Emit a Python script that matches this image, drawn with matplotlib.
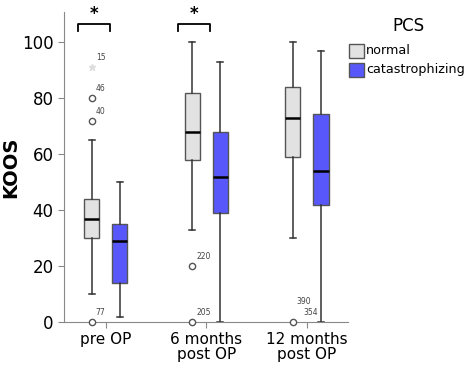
"""KOOS by PCS group over time (boxplots)."""

import matplotlib.pyplot as plt

groups = ['pre OP', '6 months\npost OP', '12 months\npost OP']
series = ['normal', 'catastrophizing']
colors = ['#e2e2e2', '#5858fa']

# box stats per series, one value per group
whislo = {'normal': [10, 33, 30], 'catastrophizing': [2, 0, 0]}
q1 = {'normal': [30, 58, 59], 'catastrophizing': [14, 39, 42]}
med = {'normal': [37, 68, 73], 'catastrophizing': [29, 52, 54]}
q3 = {'normal': [44, 82, 84], 'catastrophizing': [35, 68, 74.5]}
whishi = {'normal': [65, 100, 100], 'catastrophizing': [50, 93, 97]}

# outliers: (group index, value, case label)
outliers_normal = [(0, 80, '46'), (0, 72, '40'), (0, 0, '77'),
                   (1, 20, '220'), (1, 0, '205'), (2, 0, '390')]
extremes_normal = [(0, 91, '15')]
labels_blue = [(2, 0, '354')]

sig_groups = [0, 1]

offset = 0.14
width = 0.15


def main():
    fig = plt.figure(figsize=(4.66, 3.69), dpi=100)
    ax = fig.add_axes([0.137, 0.127, 0.61, 0.84])

    for si, s in enumerate(series):
        sign = -1 if si == 0 else 1
        stats = []
        for gi in range(len(groups)):
            stats.append(dict(whislo=whislo[s][gi], q1=q1[s][gi], med=med[s][gi],
                              q3=q3[s][gi], whishi=whishi[s][gi], fliers=[]))
        pos = [gi + sign * offset for gi in range(len(groups))]
        ax.bxp(stats, positions=pos, widths=width, patch_artist=True,
               showfliers=False,
               boxprops=dict(facecolor=colors[si], edgecolor='#555555', linewidth=1),
               medianprops=dict(color='black', linewidth=1.8),
               whiskerprops=dict(color='#333333', linewidth=1.1),
               capprops=dict(color='#333333', linewidth=1.1),
               capwidths=0.06)

    for gi, v, lab in outliers_normal:
        x = gi - offset
        ax.plot(x, v, 'o', mfc='white', mec='#555555', ms=4.5, mew=1, clip_on=False, zorder=5)
        dy = 6.5 if gi == 2 else 2.5
        ax.text(x + 0.04, v + dy, lab, fontsize=5.5, color='#444444')
    for gi, v, lab in extremes_normal:
        x = gi - offset
        ax.plot(x, v, '*', color='#dddddd', ms=5, zorder=5)
        ax.text(x + 0.04, v + 2.5, lab, fontsize=5.5, color='#444444')
    for gi, v, lab in labels_blue:
        x = gi + offset
        ax.text(x - 0.17, v + 2.5, lab, fontsize=5.5, color='#444444')

    # significance brackets
    for gi in sig_groups:
        x0, x1 = gi - 0.28, gi + 0.04
        ax.plot([x0, x0, x1, x1], [104, 106.4, 106.4, 104], color='black', lw=1.3, clip_on=False)
        ax.text((x0 + x1) / 2, 110, '*', ha='center', va='center', fontsize=12, fontweight='bold')

    ax.set_xlim(-0.418, 2.41)
    ax.set_ylim(0, 110.7)
    ax.set_yticks([0, 20, 40, 60, 80, 100])
    ax.set_xticks(range(len(groups)))
    ax.set_xticklabels(groups, fontsize=11, linespacing=1.0)
    ax.tick_params(axis='y', labelsize=12, length=4, color='#888888')
    ax.tick_params(axis='x', length=4, color='#888888', pad=3)
    ax.set_ylabel('KOOS', fontsize=14, fontweight='bold')
    ax.yaxis.set_label_coords(-0.155, 0.5)
    for side in ['top', 'right']:
        ax.spines[side].set_visible(False)
    for side in ['left', 'bottom']:
        ax.spines[side].set_color('#888888')

    # legend
    fig.text(0.876, 0.93, 'PCS', fontsize=12, ha='center', va='center')
    for si, s in enumerate(series):
        y = 0.863 - si * 0.052
        fig.patches.append(plt.Rectangle((0.749, y - 0.019), 0.032, 0.038, transform=fig.transFigure,
                                         facecolor=colors[si], edgecolor='#555555', lw=1))
        fig.text(0.785, y, s, fontsize=9.2, va='center')

    fig.savefig('out.png')


if __name__ == '__main__':
    main()
